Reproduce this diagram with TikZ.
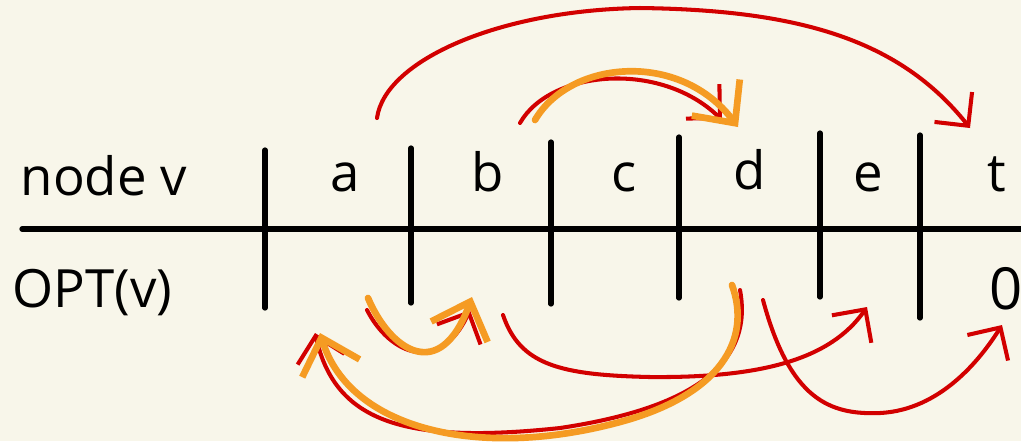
\documentclass[tikz,border=0pt]{standalone}
\usepackage{fontspec}
\setmainfont{Open Sans}
\usetikzlibrary{arrows.meta}
\definecolor{bg}{RGB}{248,246,234}
\definecolor{hred}{RGB}{210,0,0}
\definecolor{horange}{RGB}{245,155,35}
\begin{document}
\begin{tikzpicture}[x=0.01cm,y=-0.01cm, line cap=round, line join=round,
  rule/.style={line width=1.5pt, black},
  redarrow/.style={hred, line width=1.15pt, -{Straight Barb[length=2.4mm,width=4.8mm]}},
  orangearrow/.style={horange, line width=1.9pt, -{Straight Barb[length=3.2mm,width=6mm]}},
  lbl/.style={font=\fontsize{15}{17}\selectfont, anchor=base, inner sep=0pt},
  lblw/.style={lbl, anchor=base west}]
\fill[bg] (0,0) rectangle (1021,441);
\useasboundingbox (0,0) rectangle (1021,441);
% table rules
\draw[rule] (22,229) -- (1021,229);
\draw[rule] (265,150) -- (265,308);
\draw[rule] (411,148) -- (411,303);
\draw[rule] (551,142) -- (551,304);
\draw[rule] (679,137) -- (679,298);
\draw[rule] (820,133) -- (820,297);
\draw[rule] (920,135) -- (920,318);
% labels
\node[lblw] (hdr) at (20,195) {node v};
\node[lblw] (opt) at (12,307) {OPT(v)};
\node[lbl] (na) at (345,191) {a};
\node[lbl] (nb) at (488,191) {b};
\node[lbl] (nc) at (624,191) {c};
\node[lbl] (nd) at (750,189) {d};
\node[lbl] (ne) at (868,191) {e};
\node[lbl] (nt) at (997,191) {t};
\node[lblw, font=\fontsize{16.5}{18}\selectfont] (ot) at (989,309) {0};
% connector end points
\coordinate (aTop) at (377,118);
\coordinate (tTop) at (970,128);
\coordinate (bTopR) at (520,123);
\coordinate (dTopR) at (722,120);
\coordinate (bTopO) at (535,120);
\coordinate (dTopO) at (738,127);
\coordinate (aBotR) at (367,310);
\coordinate (bBotR) at (470,310);
\coordinate (aBotO) at (368,298);
\coordinate (bBotO) at (472,297);
\coordinate (dBotR) at (740,290);
\coordinate (aTipR) at (315,333);
\coordinate (dBotO) at (732,285);
\coordinate (aTipO) at (320,333);
\coordinate (bBot2) at (503,315);
\coordinate (eTip) at (867,307);
\coordinate (dBot2) at (763,300);
\coordinate (oTip) at (1002,325);
% red connectors
\draw[redarrow] (aTop) .. controls (385,60) and (500,10) .. (640,8)
  .. controls (800,10) and (900,40) .. (tTop);
\draw[redarrow] (bTopR) .. controls (550,70) and (660,60) .. (dTopR);
\draw[redarrow] (aBotR) .. controls (390,355) and (440,375) .. (bBotR);
\draw[redarrow] (dBotR) .. controls (755,370) and (680,410) .. (560,428)
  .. controls (400,445) and (335,420) .. (aTipR);
\draw[redarrow] (bBot2) .. controls (520,365) and (560,375) .. (650,377)
  .. controls (760,378) and (830,360) .. (eTip);
\draw[redarrow] (dBot2) .. controls (790,400) and (830,415) .. (880,413)
  .. controls (940,410) and (980,360) .. (oTip);
% orange connectors
\draw[orangearrow] (bTopO) .. controls (570,60) and (680,50) .. (dTopO);
\draw[orangearrow] (aBotO) .. controls (390,350) and (440,385) .. (bBotO);
\draw[orangearrow] (dBotO) .. controls (752,340) and (720,395) .. (620,422)
  .. controls (480,460) and (350,430) .. (aTipO);
\end{tikzpicture}
\end{document}
